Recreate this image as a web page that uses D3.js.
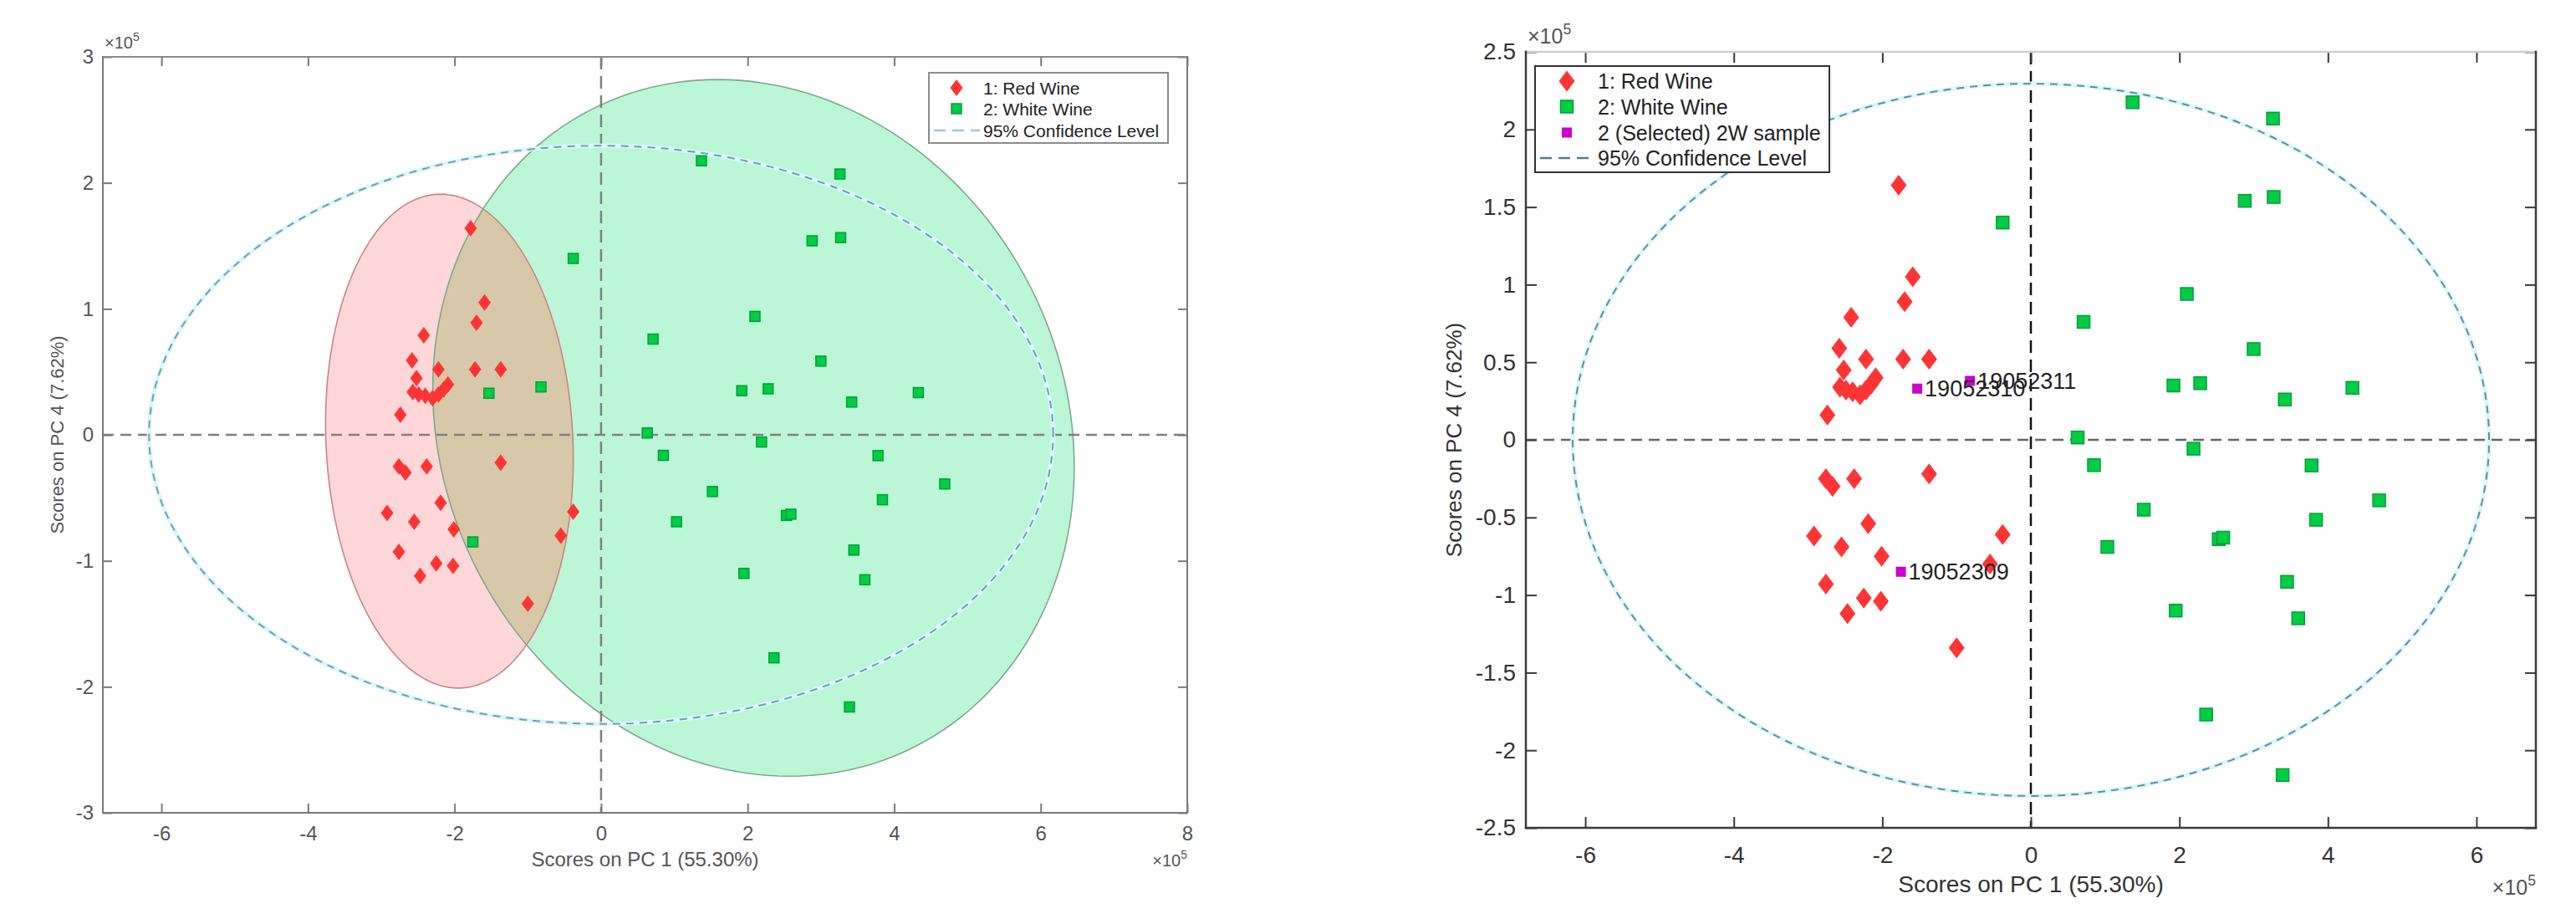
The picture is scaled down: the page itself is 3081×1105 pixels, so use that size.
<!DOCTYPE html>
<html lang="en">
<head>
    <meta charset="UTF-8">
    <title>PCA scores: red vs white wine</title>
    <script src="https://cdnjs.cloudflare.com/ajax/libs/d3/7.8.5/d3.min.js"></script>
    <style>
        body {
            margin: 0;
            background-color: #ffffff;
            font-family: "Liberation Sans", Arial, sans-serif;
        }
        svg { display: block; }
    </style>
</head>
<body>
    <svg width="3081" height="1105"></svg>
    <script>
// ---- data (scores x 1e5) ----
const redWine = [
    [-1.78, 1.64], [-1.59, 1.05], [-1.70, 0.89], [-2.42, 0.79], [-2.58, 0.59],
    [-2.22, 0.52], [-1.72, 0.52], [-1.37, 0.52], [-2.52, 0.45],
    [-2.57, 0.34], [-2.49, 0.32], [-2.40, 0.31], [-2.30, 0.29], [-2.22, 0.32],
    [-2.15, 0.36], [-2.09, 0.40], [-2.74, 0.16],
    [-2.76, -0.25], [-2.67, -0.30], [-2.38, -0.25], [-1.37, -0.22], [-2.19, -0.54],
    [-2.92, -0.62], [-2.55, -0.69], [-2.01, -0.75], [-0.38, -0.61], [-0.55, -0.80],
    [-2.76, -0.93], [-2.25, -1.02], [-2.02, -1.04], [-2.47, -1.12], [-1.00, -1.34]
];
const whiteWine = [
    [1.37, 2.175], [3.26, 2.07], [2.88, 1.54], [3.27, 1.565], [-0.38, 1.40],
    [2.10, 0.94], [0.71, 0.76], [3.00, 0.585], [1.92, 0.35], [2.28, 0.365],
    [3.42, 0.26], [4.33, 0.335], [0.63, 0.015], [2.19, -0.057], [0.85, -0.163],
    [3.78, -0.165], [4.69, -0.39], [1.52, -0.45], [3.84, -0.515], [2.53, -0.64],
    [2.59, -0.63], [1.03, -0.69], [3.45, -0.915], [1.95, -1.10], [3.60, -1.15],
    [2.36, -1.77], [3.39, -2.16]
];
const selectedIds = ["19052310", "19052311", "19052309"];
const selectedScores = [[-1.53, 0.33], [-0.82, 0.38], [-1.75, -0.85]];

// confidence regions (centre, radii, shear) in score units
const redRegion = { cx: -2.07, cy: -0.05, rx: 1.686, ry: 1.96, shear: -0.12 };
const whiteRegion = { cx: 2.08, cy: 0.055, rx: 4.35, ry: 2.765, shear: -0.49 };
const conf95 = { cx: 0, cy: 0, rx: 6.17, ry: 2.295, shear: 0 };

const leftXTicks = [-6, -4, -2, 0, 2, 4, 6, 8];
const leftYTicks = [-3, -2, -1, 0, 1, 2, 3];
const rightXTicks = [-6, -4, -2, 0, 2, 4, 6];
const rightYTicks = [-2.5, -2, -1.5, -1, -0.5, 0, 0.5, 1, 1.5, 2, 2.5];

const xLabel = "Scores on PC 1 (55.30%)";
const yLabel = "Scores on PC 4 (7.62%)";
const legendLeft = ["1: Red Wine", "2: White Wine", "95% Confidence Level"];
const legendRight = ["1: Red Wine", "2: White Wine", "2 (Selected) 2W sample", "95% Confidence Level"];

const svg = d3.select("svg");
const FONT = "'Liberation Sans', Arial, sans-serif";
const fmt = d => String(d);

function ellipsePath(region, x, y) {
    const pts = d3.range(0, 361, 2).map(a => {
        const t = a * Math.PI / 180;
        return [region.cx + region.rx * Math.cos(t) + region.shear * Math.sin(t),
                region.cy + region.ry * Math.sin(t)];
    });
    return d3.line().x(d => x(d[0])).y(d => y(d[1])).curve(d3.curveLinearClosed)(pts);
}

function diamond(w, h) {
    return `M0,${-h / 2}L${w / 2},0L0,${h / 2}L${-w / 2},0Z`;
}

function exponent(g, x, y, size, anchor) {
    const t = g.append("text")
        .attr("x", x).attr("y", y)
        .attr("text-anchor", anchor)
        .attr("font-family", FONT)
        .attr("font-size", size)
        .attr("fill", "#555");
    t.append("tspan").text("\u00d710");
    t.append("tspan").attr("dy", -size * 0.45).attr("font-size", size * 0.7).text("5");
}

function drawPanel(cfg) {
    const g = svg.append("g");
    const x = d3.scaleLinear().domain(cfg.xDomain).range([cfg.left, cfg.right]);
    const y = d3.scaleLinear().domain(cfg.yDomain).range([cfg.bottom, cfg.top]);
    const clipId = "clip-" + cfg.id;

    g.append("clipPath").attr("id", clipId)
        .append("rect")
        .attr("x", cfg.left).attr("y", cfg.top)
        .attr("width", cfg.right - cfg.left).attr("height", cfg.bottom - cfg.top);

    const plot = g.append("g").attr("clip-path", `url(#${clipId})`);

    if (cfg.regions) {
        const overlapId = "overlap-" + cfg.id;
        g.append("clipPath").attr("id", overlapId)
            .append("path").attr("d", ellipsePath(whiteRegion, x, y));
        plot.append("path").attr("d", ellipsePath(whiteRegion, x, y))
            .attr("fill", "#bbf7d6");
        plot.append("path").attr("d", ellipsePath(redRegion, x, y))
            .attr("fill", "#ffd7d9");
        plot.append("path").attr("d", ellipsePath(redRegion, x, y))
            .attr("clip-path", `url(#${overlapId})`)
            .attr("fill", "#d8c8aa");
        plot.append("path").attr("d", ellipsePath(whiteRegion, x, y))
            .attr("fill", "none").attr("stroke", "#7fa98c").attr("stroke-width", 1.6);
        plot.append("path").attr("d", ellipsePath(redRegion, x, y))
            .attr("fill", "none").attr("stroke", "#c98585").attr("stroke-width", 1.6);
    }

    // zero lines
    plot.append("line")
        .attr("x1", cfg.left).attr("x2", cfg.right)
        .attr("y1", y(0)).attr("y2", y(0))
        .attr("stroke", cfg.hZeroColor).attr("stroke-width", 2.5)
        .attr("stroke-dasharray", "13,8");
    plot.append("line")
        .attr("x1", x(0)).attr("x2", x(0))
        .attr("y1", cfg.top).attr("y2", cfg.bottom)
        .attr("stroke", cfg.vZeroColor).attr("stroke-width", 2.5)
        .attr("stroke-dasharray", "15,8");

    // 95% confidence ellipse
    plot.append("path").attr("d", ellipsePath(conf95, x, y))
        .attr("fill", "none").attr("stroke", "#dff5fb").attr("stroke-width", 5);
    plot.append("path").attr("d", ellipsePath(conf95, x, y))
        .attr("fill", "none").attr("stroke", cfg.confColor).attr("stroke-width", 2)
        .attr("stroke-dasharray", "9,7");

    // markers
    plot.selectAll(".red").data(redWine).enter().append("path")
        .attr("d", diamond(cfg.dW, cfg.dH))
        .attr("transform", d => `translate(${x(d[0])},${y(d[1])})`)
        .attr("fill", "#ff3535");

    const greens = cfg.showSelected ? whiteWine : whiteWine.concat(selectedScores);
    plot.selectAll(".green").data(greens).enter().append("rect")
        .attr("x", d => x(d[0]) - cfg.sq / 2).attr("y", d => y(d[1]) - cfg.sq / 2)
        .attr("width", cfg.sq).attr("height", cfg.sq)
        .attr("fill", "#00cc44").attr("stroke", "#00a03a").attr("stroke-width", 1.5);

    if (cfg.showSelected) {
        plot.selectAll(".sel").data(selectedScores).enter().append("rect")
            .attr("x", d => x(d[0]) - cfg.msq / 2).attr("y", d => y(d[1]) - cfg.msq / 2)
            .attr("width", cfg.msq).attr("height", cfg.msq)
            .attr("fill", "#cc00cc");
        // labels overlap in the original figure as well
        g.selectAll(".sel-label").data(selectedScores).enter().append("text")
            .attr("x", d => x(d[0]) + cfg.msq / 2 + 3)
            .attr("y", d => y(d[1]))
            .attr("dy", "0.36em")
            .attr("font-family", FONT).attr("font-size", 27)
            .attr("fill", "#222")
            .text((d, i) => selectedIds[i]);
    }

    // axes (ticks point inward)
    const axes = g.append("g");
    axes.append("g").attr("transform", `translate(0,${cfg.bottom})`)
        .call(d3.axisBottom(x).tickValues(cfg.xTicks).tickFormat(fmt)
            .tickSizeInner(-cfg.tickLen).tickSizeOuter(0).tickPadding(cfg.xPad));
    axes.append("g").attr("transform", `translate(${cfg.left},0)`)
        .call(d3.axisLeft(y).tickValues(cfg.yTicks).tickFormat(fmt)
            .tickSizeInner(-cfg.tickLen).tickSizeOuter(0).tickPadding(cfg.yPad));
    axes.append("g").attr("transform", `translate(0,${cfg.top})`)
        .call(d3.axisTop(x).tickValues(cfg.xTicks).tickFormat("")
            .tickSizeInner(-cfg.tickLen).tickSizeOuter(0));
    axes.append("g").attr("transform", `translate(${cfg.right},0)`)
        .call(d3.axisRight(y).tickValues(cfg.yTicks).tickFormat("")
            .tickSizeInner(-cfg.tickLen).tickSizeOuter(0));
    axes.selectAll(".domain").remove();
    axes.selectAll(".tick line").attr("stroke", cfg.axisColor).attr("stroke-width", 2);
    axes.selectAll(".tick text")
        .attr("fill", cfg.textColor)
        .attr("font-family", FONT)
        .attr("font-size", cfg.tickFont);

    // frame
    const frame = [
        [cfg.left, cfg.top, cfg.right, cfg.top, cfg.topColor],
        [cfg.right, cfg.top, cfg.right, cfg.bottom, cfg.axisColor],
        [cfg.left, cfg.top, cfg.left, cfg.bottom, cfg.axisColor],
        [cfg.left, cfg.bottom, cfg.right, cfg.bottom, cfg.axisColor]
    ];
    g.selectAll(".frame").data(frame).enter().append("line")
        .attr("x1", d => d[0]).attr("y1", d => d[1])
        .attr("x2", d => d[2]).attr("y2", d => d[3])
        .attr("stroke", d => d[4]).attr("stroke-width", cfg.frameWidth)
        .attr("stroke-linecap", "square");

    // axis labels
    g.append("text")
        .attr("x", (cfg.left + cfg.right) / 2).attr("y", cfg.xLabelY)
        .attr("text-anchor", "middle")
        .attr("font-family", FONT).attr("font-size", cfg.labelFont)
        .attr("fill", cfg.textColor)
        .text(xLabel);
    g.append("text")
        .attr("transform", `translate(${cfg.yLabelX},${(cfg.top + cfg.bottom) / 2}) rotate(-90)`)
        .attr("text-anchor", "middle")
        .attr("dy", "0.36em")
        .attr("font-family", FONT).attr("font-size", cfg.yLabelFont)
        .attr("fill", cfg.textColor)
        .text(yLabel);

    exponent(g, cfg.left + 2, cfg.top - 10, cfg.expFont, "start");
    exponent(g, cfg.right, cfg.expBottomY, cfg.expFont, "end");

    // legend
    const L = cfg.legend;
    const lg = g.append("g");
    lg.append("rect")
        .attr("x", L.x).attr("y", L.y).attr("width", L.w).attr("height", L.h)
        .attr("fill", "#ffffff").attr("stroke", L.stroke).attr("stroke-width", 2);
    L.items.forEach((label, i) => {
        const cy = L.y + L.rows[i];
        if (label.startsWith("1:")) {
            lg.append("path").attr("d", diamond(cfg.dW, cfg.dH))
                .attr("transform", `translate(${L.markX},${cy})`).attr("fill", "#ff3535");
        } else if (label.startsWith("2:")) {
            lg.append("rect").attr("x", L.markX - cfg.sq / 2).attr("y", cy - cfg.sq / 2)
                .attr("width", cfg.sq).attr("height", cfg.sq)
                .attr("fill", "#00cc44").attr("stroke", "#00a03a").attr("stroke-width", 1.5);
        } else if (label.startsWith("2 (")) {
            lg.append("rect").attr("x", L.markX - cfg.msq / 2).attr("y", cy - cfg.msq / 2)
                .attr("width", cfg.msq).attr("height", cfg.msq).attr("fill", "#cc00cc");
        } else {
            lg.append("line")
                .attr("x1", L.x + 6).attr("x2", L.textX - 4)
                .attr("y1", cy).attr("y2", cy)
                .attr("stroke", L.lineColor).attr("stroke-width", 2.5)
                .attr("stroke-dasharray", "14,8");
        }
        lg.append("text")
            .attr("x", L.textX).attr("y", cy).attr("dy", "0.36em")
            .attr("font-family", FONT).attr("font-size", L.font)
            .attr("fill", "#222")
            .text(label);
    });
}

drawPanel({
    id: "left", left: 123, right: 1420, top: 68, bottom: 972,
    xDomain: [-6.8, 8], yDomain: [-3, 3], xTicks: leftXTicks, yTicks: leftYTicks,
    regions: true, showSelected: false,
    hZeroColor: "#808080", vZeroColor: "#808080", confColor: "#5fa6bd",
    dW: 15, dH: 20, sq: 12, msq: 11,
    tickFont: 24, tickLen: 11, xPad: 16, yPad: 11,
    axisColor: "#7a7a7a", topColor: "#8a8a8a", textColor: "#555", frameWidth: 2,
    labelFont: 24, yLabelFont: 22, xLabelY: 1036, yLabelX: 68,
    expFont: 20, expBottomY: 1036,
    legend: {
        x: 1111, y: 87, w: 286, h: 84, rows: [18, 43, 69], markX: 1144, textX: 1176,
        font: 21, stroke: "#8c8c8c", lineColor: "#9cc9dc", items: legendLeft
    }
});

drawPanel({
    id: "right", left: 1825, right: 3033, top: 62, bottom: 990,
    xDomain: [-6.8, 6.8], yDomain: [-2.5, 2.5], xTicks: rightXTicks, yTicks: rightYTicks,
    regions: false, showSelected: true,
    hZeroColor: "#666666", vZeroColor: "#111111", confColor: "#4f95aa",
    dW: 19, dH: 25, sq: 15, msq: 12,
    tickFont: 28, tickLen: 13, xPad: 22, yPad: 12,
    axisColor: "#3a3a3a", topColor: "#cfcfcf", textColor: "#333", frameWidth: 2.5,
    labelFont: 28, yLabelFont: 26, xLabelY: 1067, yLabelX: 1739,
    expFont: 25, expBottomY: 1070,
    legend: {
        x: 1836, y: 79, w: 352, h: 127, rows: [18, 48.5, 79.5, 110], markX: 1874, textX: 1911,
        font: 25, stroke: "#333", lineColor: "#4f7f90", items: legendRight
    }
});
    </script>
</body>
</html>
